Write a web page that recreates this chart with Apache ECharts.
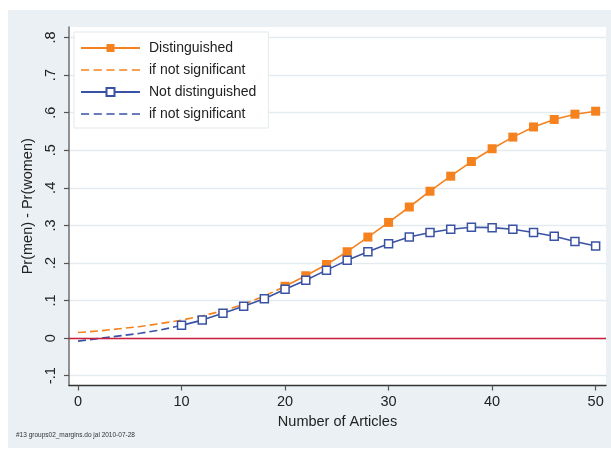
<!DOCTYPE html>
<html>
<head>
<meta charset="utf-8">
<script src="https://cdn.jsdelivr.net/npm/echarts@6/dist/echarts.min.js"></script>
<style>
  html, body { margin: 0; padding: 0; background: #ffffff; }
  #chart { width: 611px; height: 450px; }
</style>
</head>
<body>
<div id="chart"></div>
<script>
// Predicted gender gap by number of articles
const distX = [20, 22, 24, 26, 28, 30, 32, 34, 36, 38, 40, 42, 44, 46, 48, 50];
const distY = [0.138, 0.166, 0.196, 0.230, 0.269, 0.308, 0.349, 0.391, 0.431, 0.470, 0.504, 0.535, 0.562, 0.582, 0.596, 0.604];
const distNsX = [0, 2, 4, 6, 8, 10, 12, 14, 16, 18, 20];
const distNsY = [0.015, 0.019, 0.025, 0.031, 0.039, 0.048, 0.059, 0.073, 0.090, 0.112, 0.138];

const notDistX = [10, 12, 14, 16, 18, 20, 22, 24, 26, 28, 30, 32, 34, 36, 38, 40, 42, 44, 46, 48, 50];
const notDistY = [0.034, 0.048, 0.066, 0.085, 0.105, 0.130, 0.154, 0.181, 0.207, 0.230, 0.251, 0.269, 0.281, 0.290, 0.295, 0.294, 0.290, 0.281, 0.271, 0.257, 0.245];
const notDistNsX = [0, 2, 4, 6, 8, 10];
const notDistNsY = [-0.008, -0.001, 0.006, 0.013, 0.022, 0.034];

const xTicks = [0, 10, 20, 30, 40, 50];
const yTicks = [-0.1, 0, 0.1, 0.2, 0.3, 0.4, 0.5, 0.6, 0.7, 0.8];

const ORANGE = '#f5821f';
const BLUE = '#3a52a3';
const FONT = '"Liberation Sans", Arial, sans-serif';
const DASH = [8, 4];

// legend glyph for the dashed "if not significant" entries: five short dashes
const DASHED_ICON = 'path://M0,0h8v1.6h-8z M12.5,0h8v1.6h-8z M25,0h8v1.6h-8z M37.5,0h8v1.6h-8z M50,0h8v1.6h-8z';

const pairs = (xs, ys) => xs.map((x, i) => [x, ys[i]]);

const chart = echarts.init(document.getElementById('chart'), null, { renderer: 'canvas' });

chart.setOption({
  animation: false,
  textStyle: { fontFamily: FONT },
  graphic: [
    {
      type: 'rect', z: -10, silent: true,
      shape: { x: 8, y: 10, width: 603, height: 438 },
      style: { fill: '#eaf0f3' }
    },
    {
      type: 'text', left: 16, top: 432, silent: true,
      style: { text: '#13 groups02_margins.do jal 2010-07-28', fill: '#333', font: '6.5px ' + FONT }
    }
  ],
  grid: {
    left: 69, right: 5, top: 27, bottom: 64.5,
    show: true, backgroundColor: '#ffffff', borderWidth: 0
  },
  legend: {
    left: 74, top: 32, orient: 'vertical',
    padding: [9, 12, 7, 6],
    backgroundColor: '#ffffff', borderColor: '#e3e9ec', borderWidth: 1,
    itemWidth: 59, itemHeight: 10, itemGap: 8,
    textStyle: { fontSize: 14, color: '#222', lineHeight: 14, padding: [0, 0, 0, 4], fontFamily: FONT },
    data: [
      { name: 'Distinguished' },
      { name: 'if not significant', icon: DASHED_ICON },
      { name: 'Not distinguished' },
      { name: 'if not significant ', icon: DASHED_ICON }
    ]
  },
  xAxis: {
    type: 'value', min: -0.87, max: 51.0,
    name: 'Number of Articles', nameLocation: 'middle', nameGap: 25,
    nameTextStyle: { fontSize: 14.5, color: '#222', fontFamily: FONT },
    axisLine: { show: true, onZero: false, lineStyle: { color: '#333', width: 1.3 } },
    axisTick: { show: true, length: 5, customValues: xTicks, lineStyle: { color: '#555', width: 1.2 } },
    axisLabel: { customValues: xTicks, fontSize: 14.5, color: '#222', margin: 9, fontFamily: FONT },
    splitLine: { show: false }
  },
  yAxis: {
    type: 'value', min: -0.126, max: 0.828,
    name: 'Pr(men) - Pr(women)', nameLocation: 'middle', nameGap: 26, nameRotate: 90,
    nameTextStyle: { fontSize: 14.5, color: '#222', fontFamily: FONT },
    axisLine: { show: true, onZero: false, lineStyle: { color: '#777', width: 1.6 } },
    axisTick: { show: true, length: 5, customValues: yTicks, lineStyle: { color: '#555', width: 1.2 } },
    axisLabel: {
      customValues: yTicks, rotate: 90, fontSize: 14.5, color: '#222', margin: 11, fontFamily: FONT,
      formatter: v => {
        const s = (Math.round(v * 10) / 10).toString();
        return s.replace(/^0\./, '.').replace(/^-0\./, '-.');
      }
    },
    splitLine: { show: true, lineStyle: { color: '#e4ebef', width: 1.3 } }
  },
  series: [
    {
      name: 'Distinguished', type: 'line', z: 4,
      data: pairs(distX, distY),
      symbol: 'rect', symbolSize: 9,
      lineStyle: { color: ORANGE, width: 1.6 },
      itemStyle: { color: ORANGE },
      markLine: {
        silent: true, symbol: 'none', label: { show: false },
        lineStyle: { color: '#cc1f3c', width: 1.4, type: 'solid' },
        data: [{ yAxis: 0 }]
      }
    },
    {
      name: 'if not significant', type: 'line', z: 3,
      data: pairs(distNsX, distNsY),
      showSymbol: false, symbol: 'none',
      lineStyle: { color: ORANGE, width: 1.6, type: DASH },
      itemStyle: { color: ORANGE }
    },
    {
      name: 'Not distinguished', type: 'line', z: 5,
      data: pairs(notDistX, notDistY),
      symbol: 'rect', symbolSize: 8,
      lineStyle: { color: BLUE, width: 1.6 },
      itemStyle: { color: '#ffffff', borderColor: BLUE, borderWidth: 1.5 }
    },
    {
      name: 'if not significant ', type: 'line', z: 3,
      data: pairs(notDistNsX, notDistNsY),
      showSymbol: false, symbol: 'none',
      lineStyle: { color: BLUE, width: 1.6, type: DASH },
      itemStyle: { color: BLUE }
    }
  ]
});
</script>
</body>
</html>
